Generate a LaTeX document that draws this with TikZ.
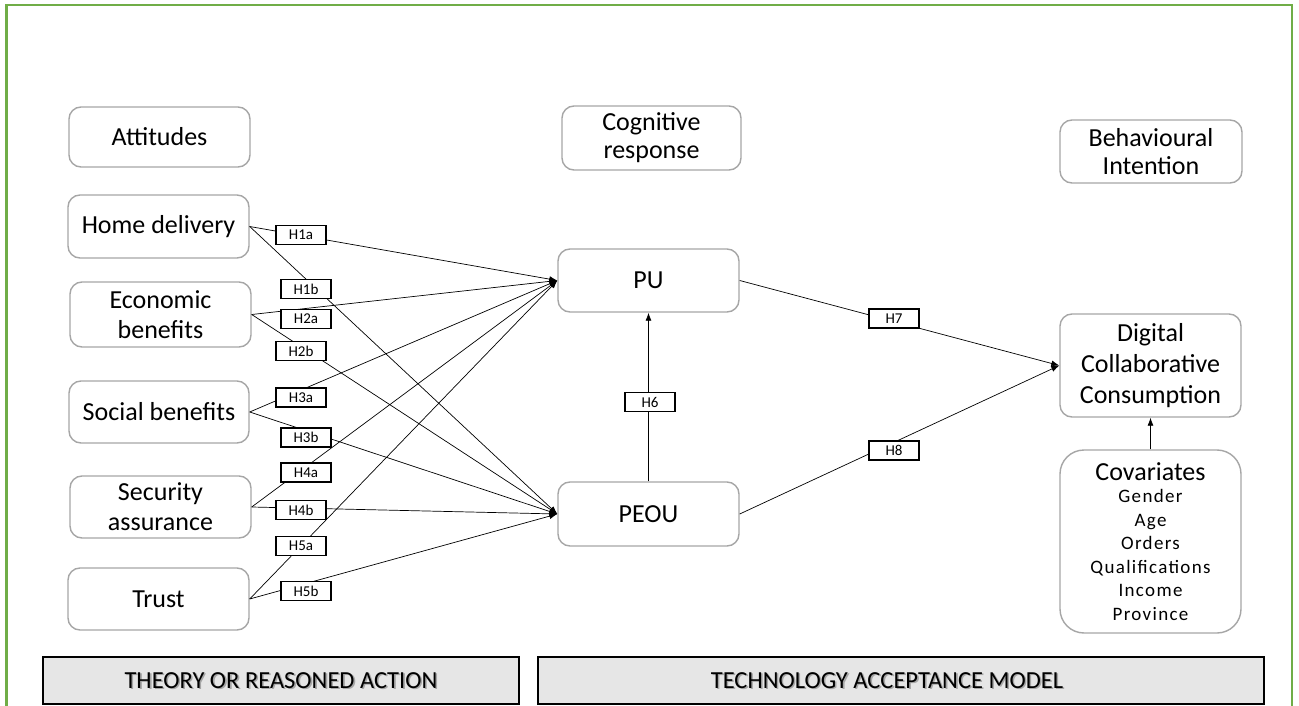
\documentclass[tikz,border=0pt]{standalone}
\usepackage{fontspec}
\setmainfont{Carlito}
\usetikzlibrary{arrows.meta}
\definecolor{framegreen}{HTML}{70AD47}
\definecolor{boxline}{HTML}{A6A6A6}
\definecolor{bandfill}{HTML}{E6E6E6}

\begin{document}
\begin{tikzpicture}[x=1pt,y=-1pt,
  size/.style 2 args={minimum width=#1pt, minimum height=#2pt},
  concept/.style={draw=boxline, line width=1.4pt, rounded corners=12pt, fill=white,
    align=center, inner sep=0pt, font=\fontsize{26}{30}\selectfont},
  hyp/.style={draw=black, line width=1.4pt, fill=white, minimum width=50pt,
    minimum height=19pt, inner sep=0pt, font=\fontsize{15}{15}\selectfont},
  link/.style={line width=0.7pt, -{Latex[length=8pt,width=6pt]}},
  plain/.style={line width=0.7pt},
  band/.style={draw=black, line width=1.4pt, fill=bandfill, inner sep=0pt},
  bandtext/.style={font=\fontsize{24.5}{24.5}\selectfont, inner sep=0pt},
  bandshadow/.style={bandtext, text=black!35}
]
\useasboundingbox (0,0) rectangle (1299,706);

% open green frame
\draw[framegreen, line width=2.4pt] (6.5,712) -- (6.5,5) -- (1292,5) -- (1292,712);

% column headers
\node[concept, size={181}{60}] (att) at (159.5,137) {Attitudes};
\node[concept, size={179}{64}, font=\fontsize{26}{28}\selectfont] (cog) at (651.5,138) {Cognitive\\response};
\node[concept, size={182}{63}, font=\fontsize{26}{28}\selectfont] (beh) at (1151,151.5) {Behavioural\\Intention};

% attitude constructs
\node[concept, size={181}{63}] (home) at (158.5,226.5) {Home delivery};
\node[concept, size={181}{65}] (econ) at (160.5,314.5) {Economic\\benefits};
\node[concept, size={180}{62}] (soc) at (159,412) {Social benefits};
\node[concept, size={181}{62}] (sec) at (160.5,507) {Security\\assurance};
\node[concept, size={181}{62}] (trust) at (158.5,599) {Trust};

% TAM constructs
\node[concept, size={181}{63}] (pu) at (648.5,280.5) {PU};
\node[concept, size={181}{64}] (peou) at (648.5,514) {PEOU};
\node[concept, size={181}{103}, font=\fontsize{26}{31}\selectfont] (dcc) at (1150.5,365.5) {Digital\\Collaborative\\Consumption};
\node[concept, size={181}{183}, rounded corners=24pt, font=\fontsize{19}{23.5}\selectfont] (cov) at (1150.5,541.5)
  {{\fontsize{26}{26}\selectfont Covariates}\\[-1pt]
   {\addfontfeature{LetterSpace=7}Gender}\\
   {\addfontfeature{LetterSpace=7}Age}\\
   {\addfontfeature{LetterSpace=7}Orders}\\
   {\addfontfeature{LetterSpace=7}Qualifications}\\
   {\addfontfeature{LetterSpace=7}Income}\\
   {\addfontfeature{LetterSpace=7}Province}};

% paths from attitudes to PU / PEOU
\draw[link] (home.east) -- (pu.west);
\draw[link] (home.east) -- (peou.west);
\draw[link] (econ.east) -- (pu.west);
\draw[link] (econ.east) -- (peou.west);
\draw[link] (soc.east) -- (pu.west);
\draw[link] (soc.east) -- (peou.west);
\draw[link] (sec.east) -- (pu.west);
\draw[link] (sec.east) -- (peou.west);
\draw[link] (trust.east) -- (pu.west);
\draw[link] (trust.east) -- (peou.west);

% TAM paths
\draw[link] (peou.north) -- (pu.south);
\draw[link] (pu.east) -- (dcc.west);
\draw[link] (peou.east) -- (dcc.west);
\draw[link] (cov.north) -- (dcc.south);

% hypothesis labels
\node[hyp] (h1a) at (301,235) {H1a};
\node[hyp] (h1b) at (306,289) {H1b};
\node[hyp] (h2a) at (306,319) {H2a};
\node[hyp] (h2b) at (301,351) {H2b};
\node[hyp] (h3a) at (301,397.5) {H3a};
\node[hyp] (h3b) at (306,437.5) {H3b};
\node[hyp] (h4a) at (306,472.5) {H4a};
\node[hyp] (h4b) at (301,510) {H4b};
\node[hyp] (h5a) at (301,546) {H5a};
\node[hyp] (h5b) at (306,591) {H5b};
\node[hyp] (h6) at (650,402) {H6};
\node[hyp] (h7) at (894,318.5) {H7};
\node[hyp] (h8) at (894,450.5) {H8};

% theory bands
\node[band, size={476}{47}] (tra) at (281,680.5) {};
\node[bandshadow] at ([xshift=1.6pt,yshift=-1.2pt]tra.center) {THEORY OR REASONED ACTION};
\node[bandtext] (tratext) at (tra.center) {THEORY OR REASONED ACTION};
\node[band, size={726}{47}] (tam) at (901,680.5) {};
\node[bandshadow] at ([xshift=-12.4pt,yshift=-1.2pt]tam.center) {TECHNOLOGY ACCEPTANCE MODEL};
\node[bandtext] (tamtext) at ([xshift=-14pt]tam.center) {TECHNOLOGY ACCEPTANCE MODEL};
\end{tikzpicture}
\end{document}
